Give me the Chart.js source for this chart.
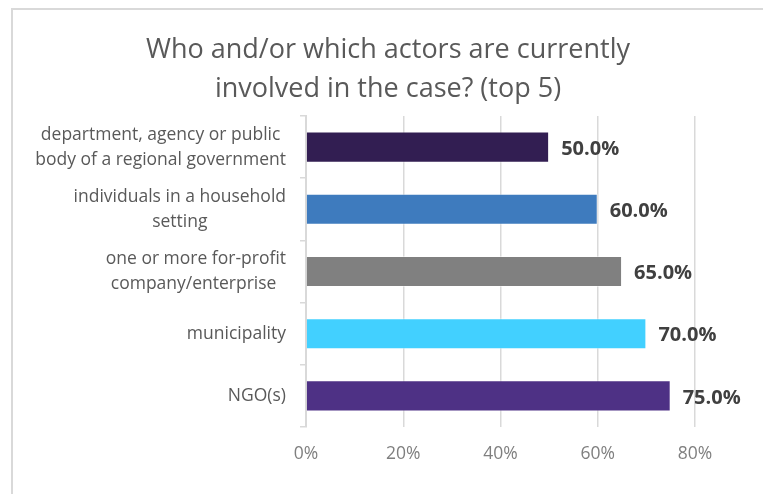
<!DOCTYPE html>
<html>
<head>
<meta charset="utf-8">
<script src="https://cdn.jsdelivr.net/npm/chart.js@4.4.1/dist/chart.umd.min.js"></script>
<style>
    html, body { margin: 0; padding: 0; background: #ffffff; }
    #frame {
        position: absolute;
        left: 11px;
        top: 8px;
        width: 750px;
        height: 484px;
        border-left: 2px solid #d9d9d9;
        border-top: 2px solid #d9d9d9;
    }
    #chart { display: block; }
</style>
</head>
<body>
<div id="frame"><canvas id="chart" width="750" height="484"></canvas></div>
<script>
// categories top to bottom
const categories = [
    ['department, agency or public', 'body of a regional government'],
    ['individuals in a household', 'setting'],
    ['one or more for-profit', 'company/enterprise '],
    ['municipality'],
    ['NGO(s)']
];
const shares = [50, 60, 65, 70, 75];
const barColors = ['#321e52', '#3e7bbe', '#808080', '#42d0ff', '#4e3185'];
const xTicks = [0, 20, 40, 60, 80];
const titleLines = ['Who and/or which actors are currently', 'involved in the case? (top 5)'];

const FONT = '"Open Sans", sans-serif';

// title centred on the whole canvas (the plot has extra right padding)
const chartTitle = {
    id: 'chartTitle',
    afterDraw(chart) {
        const { ctx, width } = chart;
        ctx.save();
        ctx.font = '27px ' + FONT;
        ctx.fillStyle = '#595959';
        ctx.textAlign = 'center';
        ctx.textBaseline = 'alphabetic';
        titleLines.forEach((t, i) => ctx.fillText(t, width / 2, 48 + i * 39));
        ctx.restore();
    }
};

// category labels: block right aligned, lines centred to each other (like Excel)
const categoryLabels = {
    id: 'categoryLabels',
    afterDraw(chart) {
        const { ctx, scales: { y } } = chart;
        const right = y.right - 20;
        const lh = 25;
        ctx.save();
        ctx.font = '17.5px ' + FONT;
        ctx.fillStyle = '#595959';
        ctx.textAlign = 'center';
        ctx.textBaseline = 'middle';
        categories.forEach((lines, i) => {
            const w = Math.max(...lines.map(l => ctx.measureText(l).width));
            const cx = right - w / 2;
            const cy = y.getPixelForTick(i);
            lines.forEach((l, j) => {
                ctx.fillText(l, cx, cy + (j - (lines.length - 1) / 2) * lh);
            });
        });
        ctx.restore();
    }
};

// bold value labels just past the bar end
const valueLabels = {
    id: 'valueLabels',
    afterDatasetsDraw(chart) {
        const { ctx } = chart;
        const meta = chart.getDatasetMeta(0);
        ctx.save();
        ctx.font = 'bold 20px ' + FONT;
        ctx.fillStyle = '#404040';
        ctx.textAlign = 'left';
        ctx.textBaseline = 'middle';
        meta.data.forEach((bar, i) => {
            ctx.fillText(shares[i].toFixed(1) + '%', bar.x + 12, bar.y + 2);
        });
        ctx.restore();
    }
};

new Chart(document.getElementById('chart').getContext('2d'), {
    type: 'bar',
    data: {
        labels: categories,
        datasets: [{
            data: shares,
            backgroundColor: barColors,
            borderColor: 'rgba(255, 255, 255, 0.45)',
            borderWidth: 1,
            barPercentage: 0.5,
            categoryPercentage: 1
        }]
    },
    options: {
        indexAxis: 'y',
        responsive: false,
        animation: false,
        layout: { padding: { left: 0, right: 68, top: 106, bottom: 0 } },
        plugins: {
            legend: { display: false },
            tooltip: { enabled: false },
            title: { display: false }
        },
        scales: {
            x: {
                min: 0,
                max: 80,
                afterBuildTicks(scale) {
                    scale.ticks = xTicks.map(v => ({ value: v }));
                },
                afterFit(scale) {
                    scale.height = 67;
                },
                ticks: {
                    color: '#7f7f7f',
                    font: { family: FONT, size: 17.5 },
                    padding: 17,
                    callback: v => v + '%'
                },
                grid: {
                    color: '#d9d9d9',
                    lineWidth: 1.5,
                    drawTicks: false
                },
                border: { display: false }
            },
            y: {
                afterFit(scale) {
                    scale.width = 293;
                },
                ticks: { display: false },
                grid: {
                    offset: true,
                    drawOnChartArea: false,
                    drawTicks: true,
                    tickLength: 6,
                    color: '#d9d9d9',
                    lineWidth: 1.5
                },
                border: { display: true, color: '#d9d9d9', width: 2 }
            }
        }
    },
    plugins: [chartTitle, categoryLabels, valueLabels]
});
</script>
</body>
</html>
